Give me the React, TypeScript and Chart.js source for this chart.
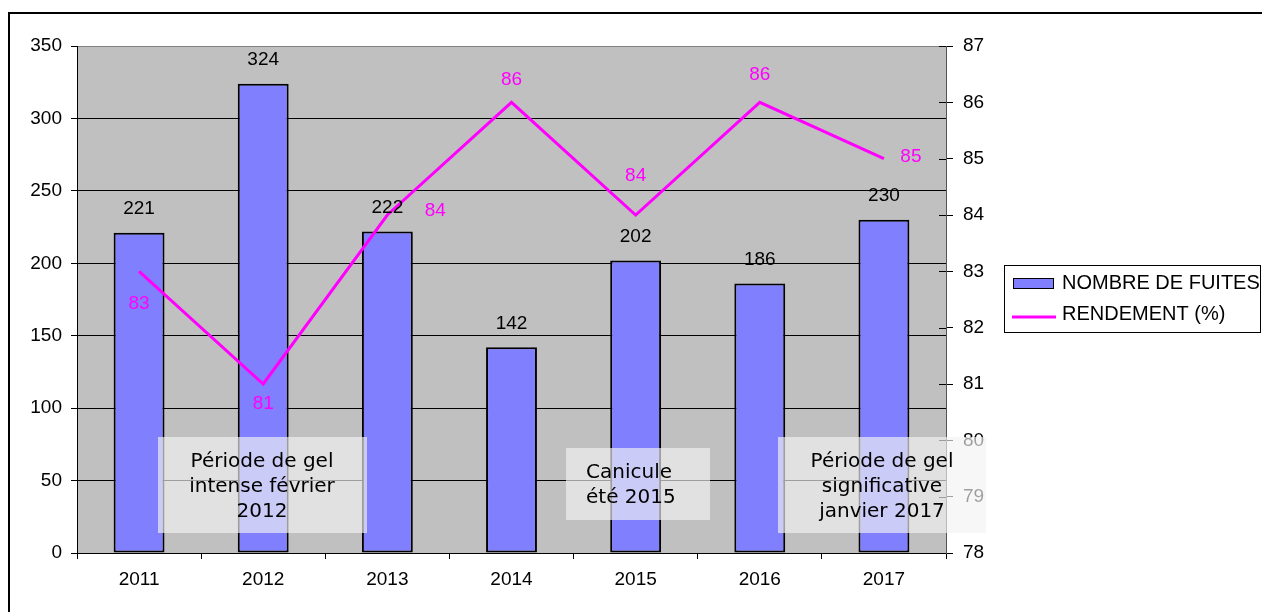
import React, { useEffect, useRef } from "react";
import { Chart, registerables } from "chart.js";

Chart.register(...registerables);

// ---- data ----
const categories = ["2011", "2012", "2013", "2014", "2015", "2016", "2017"];
const fuites = [221, 324, 222, 142, 202, 186, 230];
const rendement = [83, 81, 84, 86, 84, 86, 85];
const seriesNames = ["NOMBRE DE FUITES", "RENDEMENT (%)"];
const noteTexts = [
  ["Période de gel", "intense février", "2012"],
  ["Canicule", "été 2015"],
  ["Période de gel", "significative", "janvier 2017"],
];

// ---- styles / layout ----
const W = 1262;
const H = 612;
const BAR_COLOR = "#8080ff";
const LINE_COLOR = "#ff00ff";
const AXIS_FONT = "Liberation Sans";
const FS = 19;
// label offsets (dx, dy) for line data labels, Excel-style manual placement
const lineLabelOffsets = [
  [0, 32],
  [0, 20],
  [48, -4],
  [0, -23],
  [0, -39],
  [0, -28],
  [27, -2],
];
// note boxes: x, y, w, h, text align, text x, first line y
const noteBoxes = [
  { x: 158, y: 437, w: 209, h: 96, align: "center", tx: 262, ty: 462 },
  { x: 566, y: 448, w: 144, h: 72, align: "left", tx: 586, ty: 473 },
  { x: 778, y: 437, w: 208, h: 96, align: "center", tx: 882, ty: 462 },
];

const decorPlugin = {
  id: "decor",
  beforeDraw(chart: any) {
    const { ctx, chartArea: a } = chart;
    ctx.save();
    ctx.fillStyle = "#ffffff";
    ctx.fillRect(0, 0, chart.width, chart.height);
    ctx.strokeStyle = "#000000";
    ctx.lineWidth = 2;
    ctx.strokeRect(9, 13, chart.width + 20, chart.height + 20);
    ctx.fillStyle = "#c0c0c0";
    ctx.fillRect(a.left, a.top, a.right - a.left, a.bottom - a.top);
    ctx.restore();
  },
  afterDatasetsDraw(chart: any) {
    const { ctx, chartArea: a } = chart;
    ctx.save();
    // right axis inner tick halves
    const y1 = chart.scales.y1;
    ctx.strokeStyle = "#000";
    ctx.lineWidth = 1;
    y1.ticks.forEach((t: any) => {
      const py = Math.round(y1.getPixelForValue(t.value)) + 0.5;
      ctx.beginPath();
      ctx.moveTo(a.right - 7, py);
      ctx.lineTo(a.right, py);
      ctx.stroke();
    });

    // bar labels
    ctx.font = `${FS}px "${AXIS_FONT}"`;
    ctx.textAlign = "center";
    ctx.textBaseline = "middle";
    ctx.fillStyle = "#000";
    const m0 = chart.getDatasetMeta(0);
    m0.data.forEach((el: any, i: number) => {
      ctx.fillText(String(fuites[i]), el.x, el.y - 24);
    });
    // line labels
    ctx.fillStyle = LINE_COLOR;
    const m1 = chart.getDatasetMeta(1);
    m1.data.forEach((el: any, i: number) => {
      const [dx, dy] = lineLabelOffsets[i];
      ctx.fillText(String(rendement[i]), el.x + dx, el.y + dy);
    });

    // note boxes
    noteBoxes.forEach((b, i) => {
      ctx.fillStyle = "rgba(242,242,242,0.65)";
      ctx.fillRect(b.x, b.y, b.w, b.h);
      ctx.fillStyle = "#000";
      ctx.font = `20px "DejaVu Sans"`;
      ctx.textAlign = b.align as CanvasTextAlign;
      ctx.textBaseline = "middle";
      noteTexts[i].forEach((line, j) => {
        ctx.fillText(line, b.tx, b.ty + j * 25);
      });
    });

    // legend
    ctx.strokeStyle = "#000";
    ctx.lineWidth = 1;
    ctx.strokeRect(1004.5, 265.5, 256, 67);
    ctx.fillStyle = BAR_COLOR;
    ctx.fillRect(1013, 278, 40, 10);
    ctx.strokeRect(1013.5, 278.5, 40, 10);
    ctx.strokeStyle = LINE_COLOR;
    ctx.lineWidth = 3;
    ctx.beginPath();
    ctx.moveTo(1012, 317);
    ctx.lineTo(1056, 317);
    ctx.stroke();
    ctx.fillStyle = "#000";
    ctx.font = `20px "${AXIS_FONT}"`;
    ctx.textAlign = "left";
    ctx.textBaseline = "middle";
    ctx.fillText(seriesNames[0], 1062, 283);
    ctx.fillText(seriesNames[1], 1062, 314);
    ctx.restore();
  },
};

export default function App() {
  const ref = useRef<HTMLCanvasElement>(null);
  useEffect(() => {
    if (!ref.current) return;
    const chart = new Chart(ref.current, {
      type: "bar",
      data: {
        labels: categories,
        datasets: [
          {
            type: "bar",
            label: seriesNames[0],
            data: fuites,
            backgroundColor: BAR_COLOR,
            borderColor: "#000",
            borderWidth: 2,
            borderSkipped: false,
            categoryPercentage: 1,
            barPercentage: 0.41,
            yAxisID: "y",
            order: 2,
          },
          {
            type: "line",
            label: seriesNames[1],
            data: rendement,
            borderColor: LINE_COLOR,
            borderWidth: 3,
            pointRadius: 0,
            tension: 0,
            yAxisID: "y1",
            order: 1,
          },
        ],
      } as any,
      options: {
        responsive: false,
        animation: false,
        layout: { padding: { top: 46, left: 0, right: 0, bottom: 0 } },
        plugins: { legend: { display: false }, tooltip: { enabled: false } },
        scales: {
          x: {
            offset: true,
            grid: {
              offset: true,
              drawOnChartArea: false,
              color: "#000",
              tickLength: 6,
            },
            border: { color: "#000", width: 1 },
            ticks: {
              color: "#000",
              font: { family: AXIS_FONT, size: FS },
              padding: 9,
              maxRotation: 0,
            },
            afterFit: (s: any) => {
              s.height = 59;
            },
          },
          y: {
            position: "left",
            min: 0,
            max: 350,
            grid: {
              color: (c: any) => (c.tick && c.tick.value === 350 ? "#808080" : "#000"),
              tickColor: "#000",
              tickLength: 6,
            },
            border: { color: "#000", width: 1 },
            ticks: {
              stepSize: 50,
              color: "#000",
              font: { family: AXIS_FONT, size: FS },
              padding: 9,
            },
            afterFit: (s: any) => {
              s.width = 77;
            },
          },
          y1: {
            position: "right",
            min: 78,
            max: 87,
            grid: {
              drawOnChartArea: false,
              color: "#000",
              tickLength: 7,
            },
            border: { color: "#555", width: 1 },
            ticks: {
              stepSize: 1,
              color: "#000",
              font: { family: AXIS_FONT, size: FS },
              padding: 10,
            },
            afterFit: (s: any) => {
              s.width = W - 946;
            },
          },
        },
      } as any,
      plugins: [decorPlugin],
    });
    return () => chart.destroy();
  }, []);
  return (
    <div style={{ position: "fixed", left: 0, top: 0, width: W, height: H, background: "#fff" }}>
      <canvas ref={ref} width={W} height={H} style={{ display: "block", width: W, height: H }} />
    </div>
  );
}
